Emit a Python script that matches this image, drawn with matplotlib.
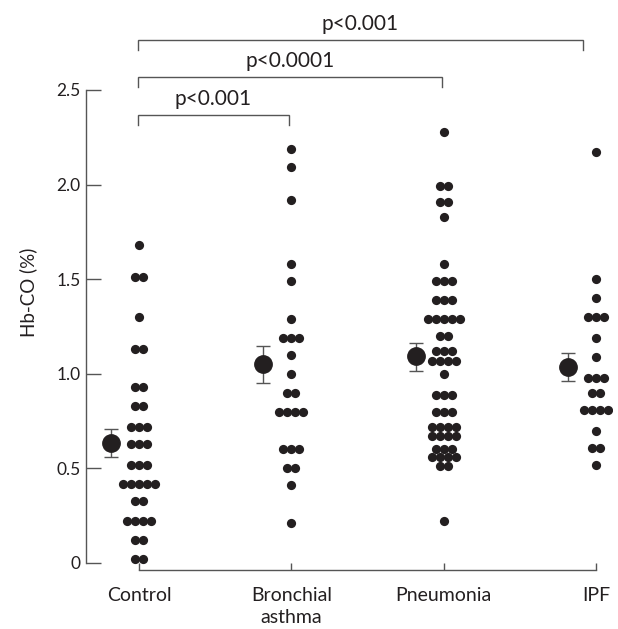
#!/usr/bin/env python3
# ====================================================================================================================
#                                          PRELIMINARIES
# ====================================================================================================================

import matplotlib
matplotlib.use("Agg")
import matplotlib.pyplot as plt     # library for visualization
import numpy as np

# ====================================================================================================================
#                                          DATA
# ====================================================================================================================

groups = ["Control", "Bronchial\nasthma", "Pneumonia", "IPF"]

# Hb-CO (%) levels of each row of dots, and how many dots sit in that row
control_levels = [1.68, 1.51, 1.30, 1.13, 0.93, 0.83, 0.72, 0.63, 0.52, 0.42, 0.33, 0.22, 0.12, 0.02]
control_counts = [1, 2, 1, 2, 2, 2, 3, 3, 3, 5, 2, 4, 2, 2]

asthma_levels = [2.19, 2.09, 1.92, 1.58, 1.49, 1.29, 1.19, 1.10, 1.00, 0.90, 0.80, 0.60, 0.50, 0.41, 0.21]
asthma_counts = [1, 1, 1, 1, 1, 1, 3, 1, 1, 2, 4, 3, 2, 1, 1]

pneumonia_levels = [2.28, 1.99, 1.91, 1.83, 1.58, 1.49, 1.39, 1.29, 1.20, 1.12, 1.07, 1.00, 0.89,
                    0.80, 0.72, 0.67, 0.60, 0.56, 0.51, 0.22]
pneumonia_counts = [1, 2, 2, 1, 1, 3, 3, 5, 2, 3, 4, 1, 3, 3, 4, 4, 3, 4, 2, 1]

ipf_levels = [2.17, 1.50, 1.40, 1.30, 1.19, 1.09, 0.98, 0.90, 0.81, 0.70, 0.61, 0.52]
ipf_counts = [1, 1, 1, 3, 1, 1, 3, 2, 4, 1, 2, 1]

# group mean with lower / upper error bar ends
means = [0.633, 1.050, 1.094, 1.034]
err_low = [0.560, 0.953, 1.015, 0.962]
err_high = [0.707, 1.149, 1.164, 1.108]

# significance brackets: (group a, group b, label)
comparisons = [(0, 1, "p<0.001"), (0, 2, "p<0.0001"), (0, 3, "p<0.001")]


def main():
# --------------------------------------------------------------------------------------------------------------------
#                                          FIGURE SETUP
# --------------------------------------------------------------------------------------------------------------------
    plt.rcParams['font.family'] = ['Lato', 'DejaVu Sans']
    ink = "#231f20"
    grey = "#555555"

    fig = plt.figure(figsize=(6.18, 6.29), dpi=100)
    ax = fig.add_axes([0.1392, 0.0938, 0.8511, 0.8824])

    all_levels = [control_levels, asthma_levels, pneumonia_levels, ipf_levels]
    all_counts = [control_counts, asthma_counts, pneumonia_counts, ipf_counts]

# --------------------------------------------------------------------------------------------------------------------
#                                          DOT COLUMNS
# --------------------------------------------------------------------------------------------------------------------
    dx = 0.0525   # spacing of neighbouring dots in a row
    for pos, (levels, counts) in enumerate(zip(all_levels, all_counts)):
        xs, ys = [], []
        for lev, n in zip(levels, counts):
            for i in range(n):
                xs.append(pos + (i - (n - 1) / 2) * dx)
                ys.append(lev)
        ax.scatter(xs, ys, s=44, color=ink, linewidths=0, zorder=3)

    # mean +/- error, slightly left of each column
    mean_x = np.arange(len(groups)) - 0.185
    yerr = [np.array(means) - np.array(err_low), np.array(err_high) - np.array(means)]
    ax.errorbar(mean_x, means, yerr=yerr, fmt='none', ecolor=grey, elinewidth=1,
                capsize=5, capthick=1, zorder=2)
    ax.plot(mean_x, means, 'o', color=ink, markersize=12.5, zorder=4)

# --------------------------------------------------------------------------------------------------------------------
#                                          SIGNIFICANCE BRACKETS
# --------------------------------------------------------------------------------------------------------------------
    bracket_y = [2.368, 2.569, 2.764]
    right_end = {1: 0.985, 2: 1.99, 3: 2.915}
    drop = 0.053
    for (a, b, lab), yb in zip(comparisons, bracket_y):
        xa, xb = a - 0.01, right_end[b]
        ax.plot([xa, xa, xb, xb], [yb - drop, yb, yb, yb - drop], color=grey, lw=1,
                clip_on=False, solid_joinstyle='miter')
        ax.text((xa + xb) / 2, yb + 0.085, lab, ha='center', va='center',
                fontsize=15, color=ink)

# --------------------------------------------------------------------------------------------------------------------
#                                          AXES
# --------------------------------------------------------------------------------------------------------------------
    ax.set_xlim(-0.348, 3.105)
    ax.set_ylim(-0.037, 2.896)

    for side in ['top', 'right']:
        ax.spines[side].set_visible(False)
    ax.spines['left'].set_bounds(0, 2.5)
    ax.spines['bottom'].set_bounds(0, 3)
    for side in ['left', 'bottom']:
        ax.spines[side].set_color(grey)
        ax.spines[side].set_linewidth(1)

    ax.set_yticks([0, 0.5, 1.0, 1.5, 2.0, 2.5])
    ax.set_yticklabels(["0", "0.5", "1.0", "1.5", "2.0", "2.5"])
    ax.tick_params(axis='y', direction='in', length=10.8, width=1, color=grey, pad=4,
                   labelsize=12.5, labelcolor=ink)

    ax.set_xticks(np.arange(len(groups)))
    ax.set_xticklabels(groups, linespacing=1.35)
    ax.tick_params(axis='x', direction='in', length=5, width=1, color=grey, pad=12,
                   labelsize=14, labelcolor=ink)

    ax.set_ylabel("Hb-CO (%)", fontsize=13.5, color=ink, labelpad=14)

    fig.savefig("out.png", dpi=100)
    plt.close(fig)


if __name__ == '__main__':
    main()
